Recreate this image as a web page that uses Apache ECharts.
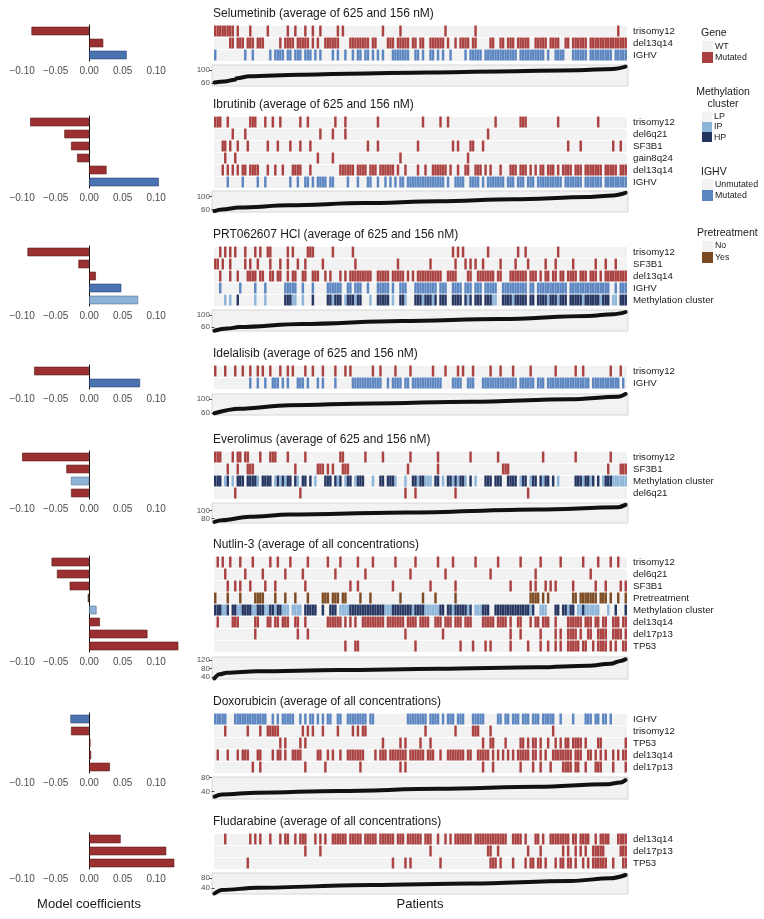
<!DOCTYPE html>
<html><head><meta charset="utf-8">
<script src="https://cdn.jsdelivr.net/npm/echarts@6/dist/echarts.min.js"></script>
<style>html,body{margin:0;padding:0;background:#fff}#c{width:764px;height:919px}</style>
</head><body><div id="c"></div><script>
// ---------------- DATA ----------------
const N = 165; // patients per heatmap (columns)
const coefTicks = [-0.1, -0.05, 0, 0.05, 0.1];

// Selumetinib
const selRows = ['trisomy12','del13q14','IGHV'];
const selCoef = [-0.086, 0.021, 0.056];
const selTrisomy12 = [[0,6],7,9,14,21,29,32,36,39,42,49,51,67,74,92,104,161];
const selDel13q14 = [[6,7],[9,11],[13,15],[17,19],26,[28,31],[33,37],39,41,44,[45,47],[48,49],[54,59],[60,61],[63,64],[69,71],[73,77],[79,80],[82,83],[86,91],93,96,[98,101],[103,104],[110,111],[114,115],[117,119],[121,125],[128,132],[134,137],[140,141],[143,148],[150,164]];
const selIGHV = [0,12,15,22,[24,27],[29,30],[32,34],[36,38],40,42,47,49,52,55,[57,58],[60,61],63,65,67,[71,77],[80,81],83,[86,87],89,91,94,100,[102,106],[108,120],[122,131],133,[136,139],[143,148],[150,158],[160,164]];
const selResp = [[0,62],[4,65],[8,70],[9,75],[14,81],[34,86],[54,89],[86,93],[114,96],[146,100],[160,104],[165,111]];

// Ibrutinib
const ibrRows = ['trisomy12','del6q21','SF3B1','gain8q24','del13q14','IGHV'];
const ibrCoef = [-0.088, -0.037, -0.027, -0.018, 0.026, 0.104];
const ibrTrisomy12 = [[0,2],5,[14,16],20,23,26,34,37,48,52,65,83,90,93,112,[122,124],137,153];
const ibrDel6q21 = [7,12,42,47,52,109];
const ibrSF3B1 = [[3,4],6,9,13,21,25,30,34,38,61,65,81,95,97,[102,103],107,141,146,159,162];
const ibrGain8q24 = [4,8,41,47,74,101];
const ibrDel13q14 = [3,5,7,9,[11,12],[14,17],21,24,27,[31,34],38,[50,55],[57,60],[62,64],[66,71],73,76,81,84,[87,92],94,97,[100,101],[104,106],108,110,114,[118,120],[122,124],126,128,[130,131],[133,135],137,[139,142],[144,146],[148,154],[156,160],[162,164]];
const ibrIGHV = [5,11,17,20,30,33,[36,37],39,[41,44],[46,47],53,57,[61,62],65,68,70,72,[74,75],[77,91],93,[96,99],[102,105],107,[109,115],[117,119],[121,123],[125,127],[129,138],[140,146],[148,154],[156,164]];
const ibrResp = [[0,55],[3,60],[10,66],[30,73],[60,80],[90,86],[120,92],[150,99],[160,104],[165,112]];

// PRT062607 HCl
const prtRows = ['trisomy12','SF3B1','del13q14','IGHV','Methylation cluster'];
const prtCoef = [-0.092, -0.016, 0.010, 0.048, 0.073];
const prtTrisomy12 = [2,4,6,8,12,16,18,[21,22],29,31,[37,39],47,55,95,97,99,109,121,124,137];
const prtSF3B1 = [[0,1],3,6,12,14,17,22,26,29,33,36,43,56,73,86,96,100,102,104,107,114,120,125,132,136,143,152,156,160];
const prtDel13q14 = [2,6,9,[13,16],[18,19],[22,23],[25,26],29,[31,32],[35,36],[39,41],44,46,50,52,[54,62],[65,69],[71,75],77,79,[81,90],[93,96],[101,102],[105,111],[113,114],[118,124],[126,128],130,[132,133],[135,136],[138,139],[141,144],[146,148],[150,152],154,[156,164]];
const prtIGHV = [2,10,16,20,[28,32],35,39,[45,50],[53,54],[56,58],61,[65,69],71,[74,76],[80,88],[90,92],[95,98],[100,102],[104,106],[108,112],[115,124],[126,127],[129,140],[142,157],160,[162,164]];
const prtMethIP = [4,6,16,20,[31,32],35,47,52,56,62,71,76,83,87,101,[111,112],119,133,137,147,154,[159,160]];
const prtMethHP = [9,[28,30],39,[45,46],[48,50],[53,55],[57,58],[65,69],[74,75],[80,82],[84,86],88,[90,92],[95,98],100,102,[104,106],[108,110],[115,118],[120,124],[126,127],[129,132],[134,136],[138,140],[142,146],[148,153],[155,157],[162,164]];
const prtResp = [[0,48],[5,55],[10,60],[35,70],[75,80],[115,87],[150,97],[160,103],[165,110]];

// Idelalisib
const ideRows = ['trisomy12','IGHV'];
const ideCoef = [-0.082, 0.076];
const ideTrisomy12 = [0,4,8,11,14,17,19,22,26,29,31,36,39,43,48,52,54,63,66,72,78,87,92,97,99,103,110,114,119,126,136,144,147,158,162];
const ideIGHV = [14,17,20,[23,25],27,29,[33,35],37,41,43,48,[55,66],69,[71,74],[76,77],[79,90],[95,98],[101,103],[107,120],[122,127],[129,131],[133,149],[151,161],163];
const ideResp = [[0,60],[10,73],[30,83],[63,88],[103,93],[143,100],[162,107],[165,115]];

// Everolimus
const eveRows = ['trisomy12','SF3B1','Methylation cluster','del6q21'];
const eveCoef = [-0.100, -0.034, -0.027, -0.027];
const eveTrisomy12 = [[0,2],7,[9,10],[12,13],18,[22,24],29,36,[50,51],60,67,78,89,102,113,131,144,158];
const eveSF3B1 = [5,9,[13,15],32,[41,43],45,47,[51,53],77,89,[115,117],157,[162,164]];
const eveMethIP = [4,7,17,24,26,28,33,40,49,52,56,63,72,76,81,[84,86],91,95,97,100,104,122,126,131,137,147,150,155,[159,164]];
const eveMethHP = [[0,2],5,[9,11],[13,16],[19,22],25,27,[29,30],32,[35,36],38,[44,46],48,50,[53,54],[57,59],[66,67],[69,71],[79,80],[82,83],[88,89],[93,94],96,[98,99],102,[108,110],[112,114],[117,120],[123,124],[127,128],130,[132,133],135,[144,146],[148,149],151,153,[156,158]];
const eveDel6q21 = [8,34,76,80,96,125];
const eveResp = [[0,71],[3,75],[14,84],[30,90],[77,95],[130,103],[162,109],[165,115]];

// Nutlin-3
const nutRows = ['trisomy12','del6q21','SF3B1','Pretreatment','Methylation cluster','del13q14','del17p13','TP53'];
const nutCoef = [-0.056, -0.048, -0.029, -0.002, 0.011, 0.016, 0.087, 0.133];
const nutTrisomy12 = [1,3,6,10,15,22,25,30,37,45,50,57,63,72,80,89,95,104,113,122,130,138,147,153,158,161];
const nutDel6q21 = [4,12,19,28,35,48,60,78,92,110,128,150];
const nutSF3B1 = [5,8,10,14,20,24,36,54,57,71,86,96,118,126,128,132,134,136,143,152,156,162,164];
const nutPretreatment = [0,5,10,[16,19],24,28,32,37,[43,45],[47,49],[51,52],58,62,74,83,88,96,[126,129],131,133,[143,144],[146,152],[154,156],158,161,164];
const nutMethIP = [3,4,[9,10],[15,16],[20,21],24,[27,29],[31,34],[50,53],[68,70],79,[84,86],[87,89],95,101,104,[105,106],126,130,[131,132],141,[145,146],[148,153],157];
const nutMethHP = [[0,2],5,[7,8],[11,14],[17,19],[22,23],[25,26],[36,39],40,43,[46,48],[54,67],[71,78],[80,83],[90,91],[93,94],[96,100],102,[107,109],[112,125],127,[136,137],[139,140],[142,143],147,160,164];
const nutDel13q14 = [1,[7,9],[16,17],[21,22],[24,25],[27,29],[32,33],36,[45,50],52,54,56,[59,67],[69,75],[77,80],[82,85],[88,90],[92,94],[96,98],[100,102],[107,111],[113,116],118,[121,122],126,[128,129],[131,133],136,[141,146],[148,150],[152,153],[155,156],[159,161],[163,164]];
const nutDel17p13 = [16,33,37,76,91,118,122,130,136,138,[141,144],146,[149,150],[153,156],[159,162],164];
const nutTP53 = [52,[56,57],80,98,103,108,110,118,125,130,133,136,138,[141,145],[147,148],151,[153,156],158,160,[163,164]];
const nutResp = [[0,33],[2,52],[5,60],[17,67],[50,72],[90,78],[130,85],[150,93],[159,102],[163,115],[165,123]];

// Doxorubicin
const doxRows = ['IGHV','trisomy12','TP53','del13q14','del17p13'];
const doxCoef = [-0.028, -0.027, 0.002, 0.003, 0.031];
const doxIGHV = [[0,4],[8,20],23,25,[27,31],34,36,[38,39],41,43,[45,46],[49,50],[53,60],[62,63],[77,84],[86,89],91,[93,95],[97,99],[103,107],[113,114],[116,117],[119,121],[123,125],[127,129],[131,135],138,143,[148,150],[152,153],[155,156],158];
const doxTrisomy12 = [4,13,18,[21,25],35,37,39,43,49,55,57,[59,60],84,96,[103,105],110,135];
const doxTP53 = [26,28,34,36,67,74,76,82,86,107,[110,111],116,[122,123],125,[127,128],130,133,136,138,[140,141],[143,146],148,[153,154],164];
const doxDel13q14 = [1,5,9,[11,13],[17,18],23,[25,26],28,[31,34],[41,42],45,47,50,[53,59],64,[66,68],[70,76],[78,83],[85,87],90,[93,99],[101,102],[105,109],111,113,115,117,119,[121,125],[127,128],130,132,[135,142],[144,146],[149,150],152,154,156,159,161,[163,164]];
const doxDel17p13 = [15,18,36,44,58,74,76,107,111,122,127,130,134,[139,142],[144,145],148,[152,154],159,164];
const doxResp = [[0,26],[3,32],[17,37],[50,42],[90,48],[130,54],[157,61],[163,66],[165,73]];

// Fludarabine
const fluRows = ['del13q14','del17p13','TP53'];
const fluCoef = [0.047, 0.115, 0.127];
const fluDel13q14 = [4,14,16,18,22,26,[28,29],32,[34,36],40,42,44,[47,52],[54,58],[60,64],[66,71],[73,75],[77,82],[84,86],89,92,94,[96,102],[104,116],[119,122],124,[128,129],131,[134,141],[143,144],[146,149],152,[154,157],[161,164]];
const fluDel17p13 = [36,42,86,[109,110],113,125,130,139,141,144,146,148,[151,155],[162,164]];
const fluTP53 = [13,71,76,78,90,[110,112],114,119,124,[126,127],[129,130],132,136,[138,139],[141,142],144,147,149,[151,156],159,[163,164]];
const fluResp = [[0,17],[3,31],[17,40],[63,51],[103,57],[143,67],[159,78],[165,91]];

// ---------------- LAYOUT / STYLE ----------------
const FONT = '"Liberation Sans", Arial, Helvetica, sans-serif';
const RED = '#a9403f', BLUE = '#5a85c0', IPC = '#8cb5d9', HPC = '#233460', BROWN = '#7c4a22', BG = '#f2f2f2';
const COLORS = [RED, BLUE, BROWN, IPC, HPC];
const ROWH = 12;

const panels = [
  {title:'Selumetinib (average of 625 and 156 nM)', rows:selRows, coef:selCoef, heat:[selTrisomy12, selDel13q14, selIGHV], resp:selResp, yr:[51,116], yt:[60,100], top:25, rTop:65, rH:21},
  {title:'Ibrutinib (average of 625 and 156 nM)', rows:ibrRows, coef:ibrCoef, heat:[ibrTrisomy12, ibrDel6q21, ibrSF3B1, ibrGain8q24, ibrDel13q14, ibrIGHV], resp:ibrResp, yr:[52,118], yt:[60,100], top:116, rTop:191, rH:21},
  {title:'PRT062607 HCl (average of 625 and 156 nM)', rows:prtRows, coef:prtCoef, heat:[prtTrisomy12, prtSF3B1, prtDel13q14, prtIGHV, {ip:prtMethIP, hp:prtMethHP}], resp:prtResp, yr:[47,117], yt:[60,100], top:246, rTop:310, rH:21},
  {title:'Idelalisib (average of 625 and 156 nM)', rows:ideRows, coef:ideCoef, heat:[ideTrisomy12, ideIGHV], resp:ideResp, yr:[55,115], yt:[60,100], top:365, rTop:394, rH:21},
  {title:'Everolimus (average of 625 and 156 nM)', rows:eveRows, coef:eveCoef, heat:[eveTrisomy12, eveSF3B1, {ip:eveMethIP, hp:eveMethHP}, eveDel6q21], resp:eveResp, yr:[68,120], yt:[80,100], top:451, rTop:503, rH:20},
  {title:'Nutlin-3 (average of all concentrations)', rows:nutRows, coef:nutCoef, heat:[nutTrisomy12, nutDel6q21, nutSF3B1, nutPretreatment, {ip:nutMethIP, hp:nutMethHP}, nutDel13q14, nutDel17p13, nutTP53], resp:nutResp, yr:[30,134], yt:[40,80,120], top:556, rTop:657, rH:22},
  {title:'Doxorubicin (average of all concentrations)', rows:doxRows, coef:doxCoef, heat:[doxIGHV, doxTrisomy12, doxTP53, doxDel13q14, doxDel17p13], resp:doxResp, yr:[19,82], yt:[40,80], top:713, rTop:777, rH:22},
  {title:'Fludarabine (average of all concentrations)', rows:fluRows, coef:fluCoef, heat:[fluDel13q14, fluDel17p13, fluTP53], resp:fluResp, yr:[15,99], yt:[40,80], top:833, rTop:873, rH:21}
];

function cells(list){
  const out = [];
  list.forEach(v => { const a = Array.isArray(v) ? v[0] : v, b = Array.isArray(v) ? v[1] : v; for (let i = a; i <= b; i++) out.push(i); });
  return out;
}
function rowColorIdx(name){ return name === 'IGHV' ? 1 : (name === 'Pretreatment' ? 2 : 0); }
function barStyle(name){
  if (name === 'IGHV') return {color:'#4a73b2', borderColor:'#2b416b'};
  if (name === 'Methylation cluster') return {color:'#8db4d8', borderColor:'#4f6f90'};
  if (name === 'Pretreatment') return {color:'#6b3e1c', borderColor:'#3a2210'};
  return {color:'#9b3030', borderColor:'#561515'};
}
const fmtCoef = v => (v < -1e-9 ? '\u2212' : '') + Math.abs(v).toFixed(2);

const option = {animation:false, textStyle:{fontFamily:FONT}, title:[], grid:[], xAxis:[], yAxis:[], series:[], graphic:[]};

panels.forEach(p => {
  const nR = p.rows.length, hH = nR * ROWH;
  option.title.push({text:p.title, left:213, top:p.top - 17, padding:0,
    textStyle:{fontSize:12, fontWeight:'normal', color:'#1a1a1a', fontFamily:FONT}});

  // left coefficient bars
  const gL = option.grid.length;
  option.grid.push({left:2, top:p.top, width:183, height:hH});
  option.xAxis.push({gridIndex:gL, type:'value', min:-0.13, max:0.143, splitLine:{show:false},
    axisLine:{onZero:false, lineStyle:{color:'#222', width:1}},
    axisTick:{customValues:coefTicks, length:3, lineStyle:{color:'#333'}},
    axisLabel:{customValues:coefTicks, formatter:fmtCoef, fontSize:10, color:'#4d4d4d', margin:5, fontFamily:FONT, hideOverlap:false}});
  const yL = option.yAxis.length;
  option.yAxis.push({gridIndex:gL, type:'category', inverse:true, data:p.rows,
    axisLine:{onZero:true, lineStyle:{color:'#111', width:1}}, axisTick:{show:false}, axisLabel:{show:false}, splitLine:{show:false}});
  option.series.push({type:'bar', xAxisIndex:option.xAxis.length - 1, yAxisIndex:yL, barWidth:8.5, z:1,
    data:p.coef.map((v,k) => ({value:v, itemStyle:Object.assign({borderWidth:0.6}, barStyle(p.rows[k]))}))});

  // heatmap
  const gH = option.grid.length;
  option.grid.push({left:214, top:p.top, width:413, height:hH, show:true, backgroundColor:BG, borderWidth:0});
  const xH = option.xAxis.length;
  option.xAxis.push({gridIndex:gH, type:'value', min:0, max:N, show:false});
  const yH = option.yAxis.length;
  option.yAxis.push({gridIndex:gH, type:'category', inverse:true, position:'right', data:p.rows,
    axisLine:{show:false}, axisTick:{show:false},
    axisLabel:{interval:0, hideOverlap:false, fontSize:9.7, color:'#1a1a1a', margin:6, fontFamily:FONT},
    splitLine:{show:true, interval:0, lineStyle:{color:'#ffffff', width:1}}});
  const data = [];
  p.heat.forEach((row, r) => {
    if (Array.isArray(row)) {
      const c = rowColorIdx(p.rows[r]);
      cells(row).forEach(i => data.push([i, r, c]));
    } else {
      cells(row.ip).forEach(i => data.push([i, r, 3]));
      cells(row.hp).forEach(i => data.push([i, r, 4]));
    }
  });
  option.series.push({type:'custom', xAxisIndex:xH, yAxisIndex:yH, data:data, encode:{x:0, y:1}, silent:true,
    renderItem:(params, api) => {
      const x = api.value(0), r = api.value(1), c = api.value(2);
      const a = api.coord([x, r]), b = api.coord([x + 1, r]);
      const h = api.size([0, 1])[1];
      return {type:'rect', shape:{x:a[0], y:a[1] - h/2 + 0.5, width:b[0] - a[0], height:h - 1},
        style:{fill:COLORS[c], stroke:'rgba(255,255,255,0.22)', lineWidth:0.4}};
    }});

  // response curve (one y axis per tick label so labels are never dropped)
  const gR = option.grid.length;
  option.grid.push({left:212, top:p.rTop, width:416, height:p.rH, show:true, backgroundColor:'#f2f2f2', borderColor:'#d6d6d6', borderWidth:1});
  const xR = option.xAxis.length;
  option.xAxis.push({gridIndex:gR, type:'value', min:-1, max:N + 1, show:false});
  const yR = option.yAxis.length;
  p.yt.forEach(t => {
    option.yAxis.push({gridIndex:gR, type:'value', position:'left', offset:0, min:p.yr[0], max:p.yr[1],
      splitLine:{show:false}, axisLine:{show:false},
      axisTick:{show:true, customValues:[t], length:3, lineStyle:{color:'#555'}},
      axisLabel:{customValues:[t], hideOverlap:false, fontSize:8, color:'#4d4d4d', margin:2, fontFamily:FONT}});
  });
  option.series.push({type:'line', xAxisIndex:xR, yAxisIndex:yR, data:p.resp, showSymbol:false, smooth:0.35, smoothMonotone:'x',
    lineStyle:{color:'#111', width:4, cap:'round'}, silent:true});
});

// axis titles
const G = option.graphic;
function txt(x, y, t, size, align){
  G.push({type:'text', x:x, y:y, silent:true,
    style:{text:t, fontSize:size, fontFamily:FONT, fill:'#1a1a1a', textAlign:align || 'left', textVerticalAlign:'middle', verticalAlign:'middle'}});
}
function sw(x, y, w, h, fill){ G.push({type:'rect', silent:true, shape:{x:x, y:y, width:w, height:h}, style:{fill:fill}}); }
txt(89, 904, 'Model coefficients', 13, 'center');
txt(420, 904, 'Patients', 13, 'center');

// legends
txt(701, 33, 'Gene', 10.5);
sw(702, 41, 11, 11, BG); txt(715, 47, 'WT', 8.8);
sw(702, 52, 11, 11, RED); txt(715, 58, 'Mutated', 8.8);
txt(723, 92, 'Methylation', 10.5, 'center');
txt(723, 104, 'cluster', 10.5, 'center');
sw(702, 112, 10, 10, BG); txt(714, 117, 'LP', 8.8);
sw(702, 122, 10, 10, IPC); txt(714, 127, 'IP', 8.8);
sw(702, 132, 10, 10, HPC); txt(714, 138, 'HP', 8.8);
txt(701, 172, 'IGHV', 10.5);
sw(702, 179, 11, 11, BG); txt(715, 185, 'Unmutated', 8.8);
sw(702, 190, 11, 11, BLUE); txt(715, 196, 'Mutated', 8.8);
txt(697, 233, 'Pretreatment', 10.5);
sw(702, 241, 11, 11, BG); txt(715, 246, 'No', 8.8);
sw(702, 252, 11, 11, BROWN); txt(715, 258, 'Yes', 8.8);

const chart = echarts.init(document.getElementById('c'), null, {renderer:'canvas'});
chart.setOption(option);
</script></body></html>
